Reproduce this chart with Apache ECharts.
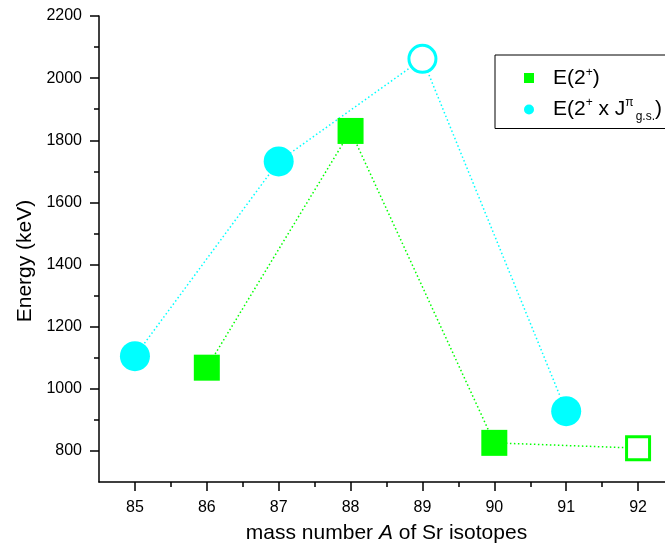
<!DOCTYPE html>
<html>
<head>
<meta charset="utf-8">
<script src="https://cdn.jsdelivr.net/npm/echarts@6/dist/echarts.min.js"></script>
<style>
html,body{margin:0;padding:0;background:#fff;}
#c{width:665px;height:552px;}
</style>
</head>
<body>
<div id="c"></div>
<script>
// Data
const massE2 = [86, 88, 90, 92];
const energyE2 = [1068, 1830, 826, 809];
const openE2 = [false, false, false, true];

const massE2J = [85, 87, 89, 91];
const energyE2J = [1105, 1732, 2062, 928];
const openE2J = [false, false, true, false];

const xMajorTicks = [85, 86, 87, 88, 89, 90, 91, 92];
const xMinorTicks = [85.5, 86.5, 87.5, 88.5, 89.5, 90.5, 91.5, 92.5];
const yMajorTicks = [800, 1000, 1200, 1400, 1600, 1800, 2000, 2200];
const yMinorTicks = [900, 1100, 1300, 1500, 1700, 1900, 2100];

const GREEN = '#00ff00';
const CYAN = '#00ffff';
const FONT = '"Liberation Sans", Arial, sans-serif';

function buildData(xs, ys, open, color, filledSize, openSize) {
  return xs.map((x, i) => open[i]
    ? { value: [x, ys[i]], symbolSize: openSize,
        itemStyle: { color: '#ffffff', borderColor: color, borderWidth: 3 } }
    : { value: [x, ys[i]], symbolSize: filledSize,
        itemStyle: { color: color, borderWidth: 0 } });
}

const chart = echarts.init(document.getElementById('c'), null, { renderer: 'canvas' });

const axisCommonX = { type: 'value', min: 84.5, max: 92.5, gridIndex: 0 };
const axisCommonY = { type: 'value', min: 700, max: 2200, gridIndex: 0 };

chart.setOption({
  animation: false,
  backgroundColor: '#ffffff',
  grid: { left: 99, top: 16, width: 575, height: 466, containLabel: false, outerBoundsMode: 'none' },
  xAxis: [
    Object.assign({}, axisCommonX, {
      position: 'bottom',
      name: 'mass number {i|A} of Sr isotopes',
      nameLocation: 'middle',
      nameGap: 41,
      nameTextStyle: { fontFamily: FONT, fontSize: 21, color: '#000',
        rich: { i: { fontFamily: FONT, fontSize: 21, fontStyle: 'italic', color: '#000' } } },
      axisLine: { show: true, lineStyle: { color: '#000', width: 1.5 } },
      axisTick: { show: true, inside: false, length: 9, customValues: xMajorTicks,
        lineStyle: { color: '#000', width: 1.5 } },
      axisLabel: { show: true, customValues: xMajorTicks, margin: 18,
        fontFamily: FONT, fontSize: 16, color: '#000', formatter: v => String(v) },
      splitLine: { show: false }
    }),
    Object.assign({}, axisCommonX, {
      position: 'bottom',
      axisLine: { show: false },
      axisTick: { show: true, inside: false, length: 5, customValues: xMinorTicks,
        lineStyle: { color: '#000', width: 1.5 } },
      axisLabel: { show: false },
      splitLine: { show: false }
    })
  ],
  yAxis: [
    Object.assign({}, axisCommonY, {
      position: 'left',
      name: 'Energy (keV)',
      nameLocation: 'middle',
      nameGap: 63,
      nameTextStyle: { fontFamily: FONT, fontSize: 21, color: '#000', padding: [0, 24, 0, 0] },
      axisLine: { show: true, lineStyle: { color: '#000', width: 1.5 } },
      axisTick: { show: true, inside: false, length: 9, customValues: yMajorTicks,
        lineStyle: { color: '#000', width: 1.5 } },
      axisLabel: { show: true, customValues: yMajorTicks, margin: 17,
        fontFamily: FONT, fontSize: 16, color: '#000', formatter: v => String(v) },
      splitLine: { show: false }
    }),
    Object.assign({}, axisCommonY, {
      position: 'left',
      axisLine: { show: false },
      axisTick: { show: true, inside: false, length: 5, customValues: yMinorTicks,
        lineStyle: { color: '#000', width: 1.5 } },
      axisLabel: { show: false },
      splitLine: { show: false }
    })
  ],
  legend: {
    orient: 'vertical',
    left: 495,
    top: 55,
    padding: [12, 40, 6, 29],
    itemGap: 8,
    itemWidth: 10,
    itemHeight: 10,
    borderColor: '#000',
    borderWidth: 1,
    backgroundColor: '#fff',
    data: [
      { name: 'E2', icon: 'rect' },
      { name: 'E2J', icon: 'circle' }
    ],
    formatter: function (name) {
      if (name === 'E2') return 'E(2{sup|+})';
      return 'E(2{sup|+} x J{sup|π}{sub|g.s.})';
    },
    textStyle: {
      fontFamily: FONT, fontSize: 21, color: '#000', padding: [0, 0, 0, 14],
      rich: {
        sup: { fontFamily: FONT, fontSize: 12, color: '#000', verticalAlign: 'top', padding: [0, 0, 10, 0] },
        sub: { fontFamily: FONT, fontSize: 12, color: '#000', verticalAlign: 'bottom', padding: [14, 0, 0, 2] }
      }
    }
  },
  series: [
    {
      name: 'E2',
      type: 'line',
      xAxisIndex: 0,
      yAxisIndex: 0,
      symbol: 'rect',
      symbolSize: 26,
      itemStyle: { color: GREEN },
      lineStyle: { color: GREEN, width: 1.5, type: [1.5, 2.5] },
      data: buildData(massE2, energyE2, openE2, GREEN, 26, 23),
      z: 3
    },
    {
      name: 'E2J',
      type: 'line',
      xAxisIndex: 0,
      yAxisIndex: 0,
      symbol: 'circle',
      symbolSize: 30,
      itemStyle: { color: CYAN },
      lineStyle: { color: CYAN, width: 1.5, type: [1.5, 2.5] },
      data: buildData(massE2J, energyE2J, openE2J, CYAN, 30, 27),
      z: 3
    }
  ]
});
</script>
</body>
</html>
